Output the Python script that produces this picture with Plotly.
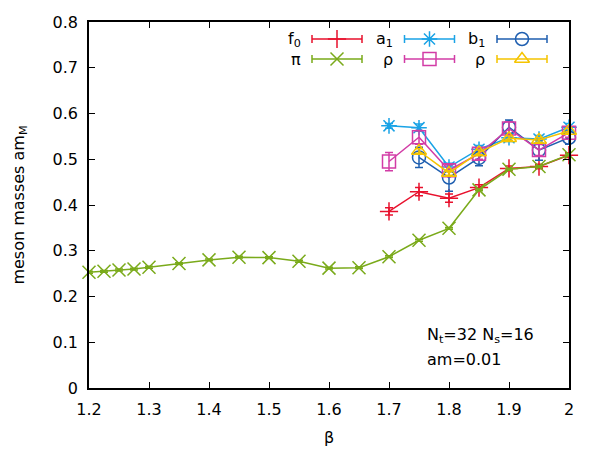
import plotly.graph_objects as go

# ---------------- data ----------------
beta_pi = [1.2, 1.225, 1.25, 1.275, 1.3, 1.35, 1.4, 1.45, 1.5, 1.55, 1.6, 1.65,
           1.7, 1.75, 1.8, 1.85, 1.9, 1.95, 2.0]
m_pi = [0.253, 0.255, 0.258, 0.260, 0.264, 0.272, 0.280, 0.286, 0.285, 0.277,
        0.262, 0.263, 0.287, 0.323, 0.349, 0.433, 0.478, 0.484, 0.510]
e_pi = [0.002] * len(beta_pi)

beta_f0 = [1.7, 1.75, 1.8, 1.85, 1.9, 1.95, 2.0]
m_f0 = [0.386, 0.429, 0.415, 0.438, 0.480, 0.484, 0.509]
e_f0 = [0.008, 0.009, 0.009, 0.006, 0.005, 0.005, 0.005]

beta_a1 = [1.7, 1.75, 1.8, 1.85, 1.9, 1.95, 2.0]
m_a1 = [0.573, 0.569, 0.483, 0.522, 0.547, 0.544, 0.570]
e_a1 = [0.005, 0.008, 0.008, 0.008, 0.008, 0.008, 0.008]

beta_b1 = [1.75, 1.8, 1.85, 1.9, 1.95, 2.0]
m_b1 = [0.504, 0.460, 0.503, 0.570, 0.520, 0.547]
e_b1 = [0.022, 0.030, 0.017, 0.016, 0.022, 0.014]

beta_rho = [1.7, 1.75, 1.8, 1.85, 1.9, 1.95, 2.0]
m_rho = [0.495, 0.548, 0.476, 0.512, 0.567, 0.520, 0.558]
e_rho = [0.020, 0.015, 0.012, 0.012, 0.015, 0.012, 0.010]

beta_rho2 = [1.75, 1.8, 1.85, 1.9, 1.95, 2.0]
m_rho2 = [0.518, 0.470, 0.515, 0.546, 0.542, 0.562]
e_rho2 = [0.005, 0.005, 0.005, 0.005, 0.005, 0.005]

x_ticks = [1.2, 1.3, 1.4, 1.5, 1.6, 1.7, 1.8, 1.9, 2.0]
x_tick_labels = ["1.2", "1.3", "1.4", "1.5", "1.6", "1.7", "1.8", "1.9", "2"]
y_ticks = [0, 0.1, 0.2, 0.3, 0.4, 0.5, 0.6, 0.7, 0.8]
y_tick_labels = ["0", "0.1", "0.2", "0.3", "0.4", "0.5", "0.6", "0.7", "0.8"]

legend_labels = ["f<sub>0</sub>", "a<sub>1</sub>", "b<sub>1</sub>", "π", "ρ", "ρ"]

# ---------------- styles ----------------
C_F0 = "#e8112d"
C_A1 = "#1aa3e6"
C_B1 = "#1f5fb0"
C_PI = "#7aaa1a"
C_RHO = "#d23ca6"
C_RHO2 = "#f5c400"

series = [
    (beta_f0, m_f0, e_f0, C_F0, "cross-thin-open", 13),
    (beta_a1, m_a1, e_a1, C_A1, "asterisk-open", 13),
    (beta_b1, m_b1, e_b1, C_B1, "circle-open", 13),
    (beta_pi, m_pi, e_pi, C_PI, "x-thin-open", 13),
    (beta_rho, m_rho, e_rho, C_RHO, "square-open", 13),
    (beta_rho2, m_rho2, e_rho2, C_RHO2, "triangle-up-open", 13),
]

FONT = "DejaVu Sans"
FS = 16
fig = go.Figure()

for xs, ys, es, col, sym, sz in series:
    fig.add_trace(go.Scatter(
        x=xs, y=ys, mode="lines+markers",
        line=dict(color=col, width=1.5),
        marker=dict(symbol=sym, size=sz, color=col, line=dict(color=col, width=1.5)),
        error_y=dict(type="data", array=es, visible=True, color=col, thickness=1.5, width=4),
        cliponaxis=False, showlegend=False,
    ))

# legend samples on an overlay axis in plot-area fractions
W, H = 480.0, 366.0
leg_cols = [(337 - 89) / W, (429.5 - 89) / W, (522 - 89) / W]
leg_text_x = [(303 - 89) / W, (395 - 89) / W, (487 - 89) / W]
leg_rows = [(388 - 39) / H, (388 - 59) / H]
half = 25 / W
for i, (xs, ys, es, col, sym, sz) in enumerate(series):
    r, c = divmod(i, 3)
    fig.add_trace(go.Scatter(
        x=[leg_cols[c]], y=[leg_rows[r]], mode="markers",
        marker=dict(symbol=sym, size=sz, color=col, line=dict(color=col, width=1.5)),
        error_x=dict(type="constant", value=half, visible=True, color=col, thickness=1.5, width=4),
        xaxis="x2", yaxis="y2", cliponaxis=False, showlegend=False,
    ))
    fig.add_annotation(x=leg_text_x[c], y=leg_rows[r], xref="x2", yref="y2",
                       text=legend_labels[i], showarrow=False, xanchor="right",
                       yanchor="middle", font=dict(family=FONT, size=FS, color="black"))

fig.add_annotation(x=(425 - 89) / W, y=(388 - 335) / H, xref="x2", yref="y2",
                   text="N<sub>t</sub>=32 N<sub>s</sub>=16", showarrow=False,
                   xanchor="left", yanchor="middle",
                   font=dict(family=FONT, size=FS, color="black"))
fig.add_annotation(x=(425 - 89) / W, y=(388 - 359) / H, xref="x2", yref="y2",
                   text="am=0.01", showarrow=False, xanchor="left", yanchor="middle",
                   font=dict(family=FONT, size=FS, color="black"))

axis_common = dict(showline=True, linecolor="black", linewidth=1.5, mirror="ticks",
                   ticks="inside", ticklen=6, tickwidth=1, tickcolor="black",
                   showgrid=False, zeroline=False, ticklabelstandoff=6, automargin=False,
                   tickfont=dict(family=FONT, size=FS, color="black"))

fig.update_layout(
    width=600, height=450,
    margin=dict(l=89, r=31, t=22, b=62),
    paper_bgcolor="white", plot_bgcolor="white",
    font=dict(family=FONT, size=FS, color="black"),
    xaxis=dict(range=[1.2, 2.0], tickvals=x_ticks, ticktext=x_tick_labels,
               title=dict(text="β", font=dict(family=FONT, size=FS), standoff=14),
               **axis_common),
    yaxis=dict(range=[0, 0.8], tickvals=y_ticks, ticktext=y_tick_labels,
               title=dict(text="meson masses am<sub>M</sub>", font=dict(family=FONT, size=FS), standoff=24),
               **axis_common),
    xaxis2=dict(range=[0, 1], overlaying="x", visible=False, anchor="y2"),
    yaxis2=dict(range=[0, 1], overlaying="y", visible=False, anchor="x2"),
)

fig.write_html("out.html")
